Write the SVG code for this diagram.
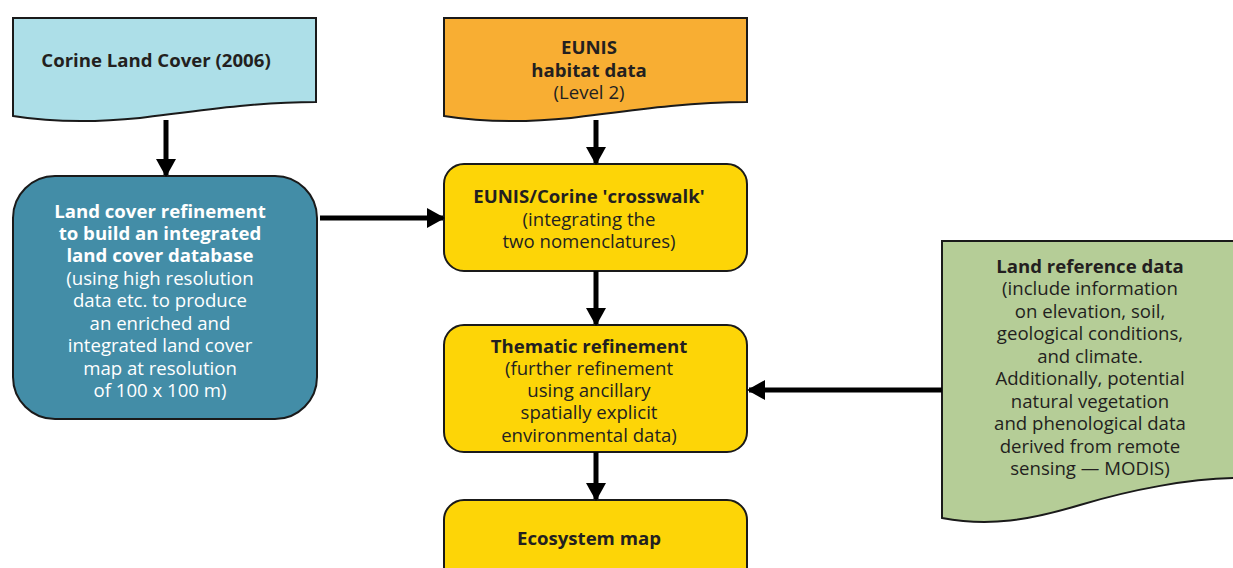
<svg xmlns="http://www.w3.org/2000/svg" width="1233" height="568" viewBox="0 0 1233 568">
<defs>
<marker id="ah" markerWidth="4" markerHeight="4" refX="3.2" refY="2" orient="auto" markerUnits="strokeWidth">
<path d="M0,0 L3.6,2 L0,4 Z" fill="#000"/>
</marker>
<style>
.box{stroke:#1a1a1a;stroke-width:2}
.t{font-family:"Open Sans","Liberation Sans",sans-serif;font-size:18.6px;fill:#231f20;text-anchor:middle}
.b{font-weight:bold}
.w{fill:#ffffff}
.c{stroke:#000;stroke-width:5;fill:none;marker-end:url(#ah)}
</style>
</defs>
<rect width="1233" height="568" fill="#fff"/>
<g id="corine">
<path class="box" fill="#addfe8" d="M13,18 H316 V102 C250,102 190,112 140,118 C90,123 50,122 13,116 Z"/>
<text class="t b" x="156" y="67">Corine Land Cover (2006)</text>
</g>
<g id="eunis">
<path class="box" fill="#f8ae33" d="M444,18 H747 V102 C681,102 621,112 571,118 C521,123 481,122 444,116 Z"/>
<text class="t b" x="589" y="54">EUNIS</text>
<text class="t b" x="589" y="77">habitat data</text>
<text class="t" x="589" y="99">(Level 2)</text>
</g>
<g id="landcover">
<rect class="box" fill="#438da7" x="13" y="176" width="304" height="243" rx="42" ry="42"/>
<text class="t b w" x="160" y="218">Land cover refinement</text>
<text class="t b w" x="160" y="240">to build an integrated</text>
<text class="t b w" x="160" y="262">land cover database</text>
<text class="t w" x="160" y="285">(using high resolution</text>
<text class="t w" x="160" y="307">data etc. to produce</text>
<text class="t w" x="160" y="330">an enriched and</text>
<text class="t w" x="160" y="352">integrated land cover</text>
<text class="t w" x="160" y="375">map at resolution</text>
<text class="t w" x="160" y="397">of 100 x 100 m)</text>
</g>
<g id="crosswalk">
<rect class="box" fill="#fdd507" x="444" y="164" width="303" height="107" rx="20" ry="20"/>
<text class="t b" x="589" y="203">EUNIS/Corine 'crosswalk'</text>
<text class="t" x="589" y="226">(integrating the</text>
<text class="t" x="589" y="248">two nomenclatures)</text>
</g>
<g id="thematic">
<rect class="box" fill="#fdd507" x="444" y="325" width="303" height="127" rx="20" ry="20"/>
<text class="t b" x="589" y="353">Thematic refinement</text>
<text class="t" x="589" y="375">(further refinement</text>
<text class="t" x="589" y="397">using ancillary</text>
<text class="t" x="589" y="419">spatially explicit</text>
<text class="t" x="589" y="442">environmental data)</text>
</g>
<g id="ecosystem">
<rect class="box" fill="#fdd507" x="444" y="500" width="303" height="100" rx="20" ry="20"/>
<text class="t b" x="589" y="545">Ecosystem map</text>
</g>
<g id="landref">
<path class="box" fill="#b5cd97" d="M942,241 H1240 V478 C1190,478 1130,490 1080,505 C1030,520 990,527 942,518 Z"/>
<text class="t b" x="1090" y="273">Land reference data</text>
<text class="t" x="1090" y="295">(include information</text>
<text class="t" x="1090" y="318">on elevation, soil,</text>
<text class="t" x="1090" y="340">geological conditions,</text>
<text class="t" x="1090" y="363">and climate.</text>
<text class="t" x="1090" y="385">Additionally, potential</text>
<text class="t" x="1090" y="408">natural vegetation</text>
<text class="t" x="1090" y="430">and phenological data</text>
<text class="t" x="1090" y="453">derived from remote</text>
<text class="t" x="1090" y="475">sensing — MODIS)</text>
</g>
<g id="connectors">
<line class="c" x1="166" y1="120" x2="166" y2="175"/>
<line class="c" x1="596" y1="120" x2="596" y2="163"/>
<line class="c" x1="320" y1="218" x2="443" y2="218"/>
<line class="c" x1="596" y1="271" x2="596" y2="324"/>
<line class="c" x1="596" y1="452" x2="596" y2="499"/>
<line class="c" x1="942" y1="390" x2="749" y2="390"/>
</g>
</svg>
